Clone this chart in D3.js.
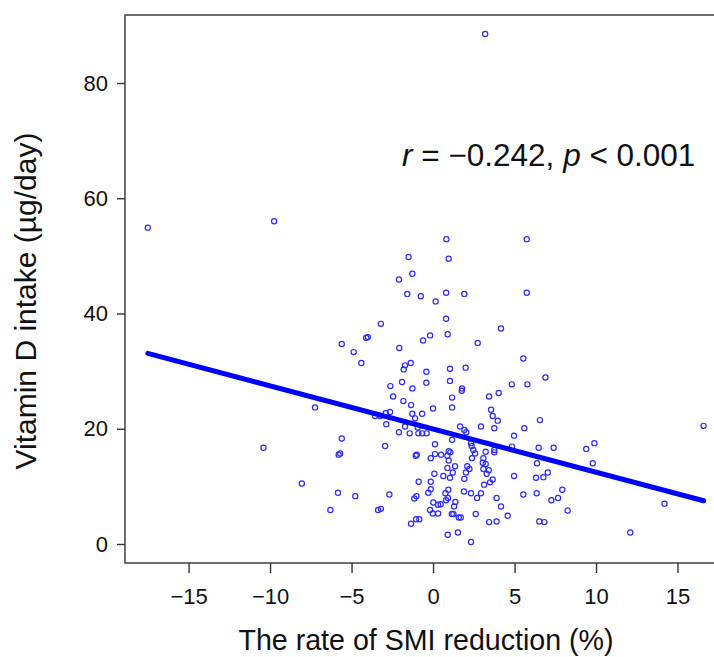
<!DOCTYPE html>
<html>
<head>
<meta charset="utf-8">
<script src="https://cdn.jsdelivr.net/npm/d3@7"></script>
<style>
  body { margin: 0; background: #fff; }
  svg { display: block; font-family: "Liberation Sans", Arial, sans-serif; }
</style>
</head>
<body>
<svg id="chart" width="714" height="657"></svg>
<script>
// rate of SMI reduction (%)
var smiRate = [
  -17.5, -9.75, -10.4, -8.05, -7.24, 3.2, 16.6, 9.4, 9.9, 9.8, 14.2, 12.1,
  0.82, -1.5, 0.96, -1.27, -2.09, -1.58, -0.75, 0.16, -3.2, -4.1, -4.0, -5.6,
  -4.87, -4.4, -2.07, -0.61, -0.18, -1.72, -1.37, -1.8, -0.41, -0.41, -1.9, -2.62, -1.27,
  5.75, 0.8, 1.92, 5.75, 0.8, 0.9, 4.17, 2.74, 5.54, 1.04, 2.0, 6.9, 1.04, 4.83, 5.79, 1.78,
  -2.45, -1.82, -1.35, 0.0, -1.27, -0.67, -2.64, -2.9, -3.56, -3.25, -1.1, -2.87, -1.72,
  -2.09, -1.43, -0.9, -0.67, -0.39, -0.94, -5.6, 0.12, -2.94, -5.7, -5.79, -1.06, -1.0,
  -0.14, 0.12, 0.08, -0.88, -0.14, -5.83, -4.77, -2.68, -0.29, -0.14, -1.02, -1.15, 0.02,
  0.31, -6.3, -3.37, -3.2, -0.18, -0.02, 0.31, -1.04, -0.84, -1.35,
  1.17, 1.17, 1.76, 3.44, 4.03, 3.56, 3.66, 3.97, 3.76, 2.94, 1.66, 1.92, 2.04, 5.6, 6.56,
  4.97, 1.17, 2.33, 2.37, 2.47, 2.58, 3.76, 3.76, 3.23, 4.85, 6.48, 7.4, 0.96, 1.06, 0.49,
  0.88, 0.96, 2.39, 3.09, 3.05, 3.23, 2.1, 1.35, 0.88, 3.09, 3.42, 2.23, 2.02, 1.21, 3.29,
  6.38, 7.04, 6.77, 6.32, 4.97, 0.63, 1.04, 1.92, 3.66, 3.5, 3.13, 0.94, 1.9, 0.76, 2.33,
  2.94, 2.7, 0.92, 0.8, 1.37, 1.29, 0.47, 3.9, 5.54, 6.36, 7.93, 7.67, 7.26, 4.17, 8.26,
  1.15, 1.25, 1.58, 1.7, 2.62, 4.58, 3.44, 3.9, 6.52, 6.83, 0.9, 1.53, 2.33
];
// vitamin D intake (µg/day)
var vitD = [
  54.9, 56.0, 16.7, 10.5, 23.7, 88.5, 20.5, 16.5, 17.5, 14.0, 7.0, 2.0,
  52.9, 49.8, 49.5, 46.9, 45.9, 43.4, 43.0, 42.1, 38.2, 35.8, 35.9, 34.7,
  33.3, 31.4, 34.0, 35.3, 36.2, 31.0, 31.4, 30.3, 29.9, 28.0, 28.1, 27.4, 27.0,
  52.9, 43.6, 43.4, 43.6, 39.1, 36.4, 37.4, 34.9, 32.2, 30.4, 30.6, 28.9, 28.3, 27.7, 27.7, 27.0,
  25.6, 24.8, 24.1, 23.5, 22.6, 22.6, 22.9, 22.7, 22.2, 22.2, 21.8, 20.8, 20.4,
  19.4, 19.2, 19.2, 19.2, 19.2, 20.2, 18.3, 17.3, 17.0, 15.7, 15.5, 15.3, 15.5,
  14.9, 15.6, 12.2, 10.8, 10.8, 8.9, 8.3, 8.6, 8.9, 9.5, 8.3, 7.9, 7.2,
  6.8, 5.9, 5.9, 6.1, 5.9, 5.3, 5.3, 4.3, 4.3, 3.5,
  25.4, 23.7, 26.6, 25.6, 26.2, 23.3, 22.2, 21.4, 20.1, 20.4, 20.4, 19.8, 19.4, 20.1, 21.5,
  18.8, 18.1, 17.5, 17.0, 16.3, 15.7, 16.3, 15.9, 16.0, 16.9, 16.7, 16.7, 16.1, 15.9, 15.5,
  15.3, 14.5, 14.9, 14.9, 14.1, 13.9, 13.5, 13.5, 13.2, 13.0, 12.8, 13.0, 12.4, 12.4, 12.2,
  14.0, 12.4, 11.6, 11.5, 11.8, 11.8, 11.5, 11.3, 11.2, 10.7, 10.3, 9.4, 9.1, 8.8, 8.8,
  8.8, 8.0, 8.0, 7.6, 7.3, 6.5, 6.9, 8.0, 8.6, 8.8, 9.4, 8.0, 7.6, 6.5, 5.8,
  5.2, 5.2, 4.6, 4.6, 5.2, 4.9, 3.8, 3.9, 3.9, 3.8, 1.6, 2.0, 0.35
];
var xTicks = [-15, -10, -5, 0, 5, 10, 15];
var yTicks = [0, 20, 40, 60, 80];
// fitted line
var fitIntercept = 19.95, fitSlope = -0.75;

var svg = d3.select("#chart");
var mLeft = 125, mTop = 15, mRight = 715, mBottom = 563;

var x = d3.scaleLinear().domain([-18.9, 17.3]).range([mLeft, mRight]);
var y = d3.scaleLinear().domain([-3.3, 91.8]).range([mBottom, mTop]);

var points = smiRate.map(function(v, i) { return { x: v, y: vitD[i] }; });

// frame (open at the right, cut by the page edge)
svg.append("rect")
    .attr("x", mLeft).attr("y", mTop)
    .attr("width", 620).attr("height", mBottom - mTop)
    .attr("fill", "none").attr("stroke", "#333").attr("stroke-width", 1.4);

var yAxis = svg.append("g")
    .attr("transform", "translate(" + mLeft + ",0)")
    .call(d3.axisLeft(y).tickValues(yTicks).tickSize(8).tickSizeOuter(0).tickPadding(9));
var xAxis = svg.append("g")
    .attr("transform", "translate(0," + mBottom + ")")
    .call(d3.axisBottom(x).tickValues(xTicks).tickSize(10).tickSizeOuter(0).tickPadding(15)
      .tickFormat(function(d) { return d < 0 ? "\u2212" + Math.abs(d) : d; }));

[xAxis, yAxis].forEach(function(a) {
  a.select(".domain").remove();
  a.selectAll(".tick line").attr("stroke", "#333").attr("stroke-width", 1.4);
  a.selectAll(".tick text").attr("font-size", 22).attr("fill", "#111")
    .attr("font-family", "Liberation Sans, Arial, sans-serif");
});

// points
svg.append("g").selectAll("circle")
    .data(points)
    .enter().append("circle")
    .attr("cx", function(d) { return x(d.x); })
    .attr("cy", function(d) { return y(d.y); })
    .attr("r", 2.6)
    .attr("fill", "none")
    .attr("stroke", "#2a2aff")
    .attr("stroke-width", 1.2);

// regression line
var xr = d3.extent(smiRate);
svg.append("line")
    .attr("x1", x(xr[0])).attr("y1", y(fitIntercept + fitSlope * xr[0]))
    .attr("x2", x(xr[1])).attr("y2", y(fitIntercept + fitSlope * xr[1]))
    .attr("stroke", "#0000ff").attr("stroke-width", 5).attr("stroke-linecap", "round");

// annotation
var note = svg.append("text")
    .attr("x", 402).attr("y", 166)
    .attr("font-size", 31.5).attr("fill", "#111");
note.append("tspan").attr("font-style", "italic").text("r");
note.append("tspan").text(" = \u22120.242, ");
note.append("tspan").attr("font-style", "italic").text("p");
note.append("tspan").text(" < 0.001");

// axis titles
svg.append("text")
    .attr("x", 426).attr("y", 650)
    .attr("text-anchor", "middle")
    .attr("font-size", 28.6).attr("fill", "#111")
    .text("The rate of SMI reduction (%)");

svg.append("text")
    .attr("transform", "translate(36,301) rotate(-90)")
    .attr("text-anchor", "middle")
    .attr("font-size", 30).attr("fill", "#111")
    .text("Vitamin D intake (\u00b5g/day)");
</script>
</body>
</html>
